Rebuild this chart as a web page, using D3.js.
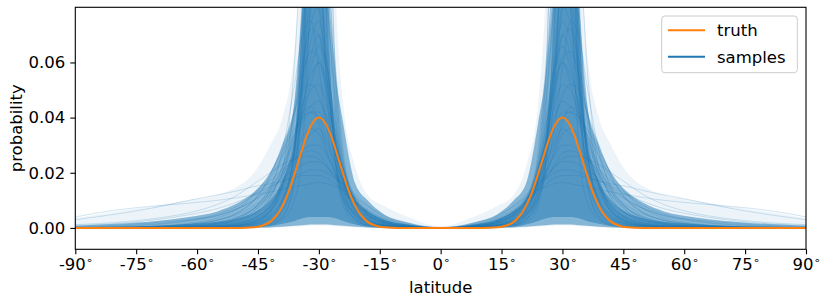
<!DOCTYPE html>
<html>
<head>
<meta charset="utf-8">
<script src="https://cdn.jsdelivr.net/npm/d3@7"></script>
<style>
  body { margin: 0; background: #fff; }
  svg { display: block; }
  text { font-family: "DejaVu Sans", sans-serif; }
</style>
</head>
<body>
<svg id="chart" width="830" height="304"></svg>
<script>
// latitudes of the northern half; the southern half is the mirror image
const latHalf = [0, 8, 14, 18, 21, 24, 26, 28, 30, 32, 34, 36, 39, 42, 46, 50, 55, 62, 70, 80, 90]

// sample curves, values in thousandths
const samples = [
    [0, 0, 0.2, 0.8, 3, 15, 45, 120, 220, 130, 50, 16, 4, 1.5, 0.6, 0.3, 0.1, 0, 0, 0, 0],
    [0, 0, 0.1, 0.5, 2, 8, 25, 90, 250, 160, 60, 18, 4, 1.2, 0.4, 0.2, 0.1, 0, 0, 0, 0],
    [0, 0.1, 0.4, 1.5, 5, 22, 60, 140, 190, 120, 55, 20, 6, 2, 0.8, 0.4, 0.2, 0.1, 0, 0, 0],
    [0, 0, 0.2, 1, 4, 18, 55, 150, 180, 90, 30, 10, 3, 1, 0.4, 0.2, 0.1, 0, 0, 0, 0],
    [0, 0.1, 0.3, 1, 3, 10, 30, 80, 160, 170, 90, 30, 8, 3, 1, 0.5, 0.2, 0.1, 0, 0, 0],
    [0, 0.2, 0.8, 2.5, 7, 25, 55, 100, 130, 105, 60, 28, 10, 4, 1.5, 0.8, 0.4, 0.2, 0.1, 0, 0],
    [0, 0.1, 0.5, 2, 6, 20, 45, 85, 115, 100, 70, 40, 15, 6, 2.5, 1.2, 0.6, 0.3, 0.1, 0, 0],
    [0, 0.3, 1, 3, 8, 28, 60, 95, 110, 90, 55, 28, 11, 5, 2, 1, 0.5, 0.2, 0.1, 0, 0],
    [0, 0.3, 1.2, 3.5, 8, 20, 36, 58, 75, 68, 50, 32, 16, 8, 3.5, 1.8, 0.8, 0.4, 0.2, 0.1, 0],
    [0, 0.4, 1.5, 4, 9, 22, 38, 60, 88, 80, 55, 33, 15, 7, 3, 1.5, 0.7, 0.3, 0.1, 0, 0],
    [0, 0.5, 2, 5, 10, 20, 32, 48, 60, 55, 45, 34, 20, 11, 5, 2.5, 1.2, 0.5, 0.2, 0.1, 0],
    [0, 0.3, 1, 3, 7, 18, 34, 55, 70, 72, 60, 42, 22, 11, 5, 2.5, 1.2, 0.6, 0.3, 0.1, 0],
    [0, 0.6, 2.2, 5.5, 11, 22, 32, 44, 52, 50, 42, 32, 20, 12, 6, 3, 1.5, 0.7, 0.3, 0.1, 0],
    [0, 0.2, 0.8, 2.5, 6, 16, 30, 52, 80, 95, 75, 45, 18, 7, 2.5, 1.2, 0.5, 0.2, 0.1, 0, 0],
    [0, 0.4, 1.6, 4.5, 10, 24, 40, 58, 66, 58, 44, 30, 16, 8, 3.5, 1.8, 0.9, 0.4, 0.2, 0.1, 0],
    [0, 0.5, 2, 5, 10, 19, 27, 36, 42, 42, 38, 32, 22, 14, 7, 3.5, 1.7, 0.8, 0.3, 0.1, 0],
    [0, 0.8, 2.8, 6, 10, 16, 21, 26, 30, 30, 28, 25, 19, 13, 8, 5, 2.8, 1.4, 0.6, 0.2, 0.1],
    [0, 0.6, 2.2, 5, 9, 15, 20, 27, 34, 36, 33, 27, 19, 12, 7, 4, 2, 1, 0.4, 0.2, 0],
    [0, 1, 3.5, 7, 11, 16, 19, 22, 24, 24, 23, 21, 18, 14, 10, 7, 4.5, 2.5, 1.2, 0.5, 0.2],
    [0, 0.7, 2.5, 5.5, 9, 14, 18, 23, 27, 28, 27, 25, 21, 17, 12, 8, 5, 2.8, 1.5, 0.7, 0.3],
    [0, 1.2, 4, 8, 12, 16, 18, 20, 21, 21, 20, 19, 17, 15, 12, 9.5, 7, 4.8, 3, 1.6, 0.9],
    [0, 0.9, 3, 6, 9, 13, 16, 18, 19, 19, 19, 18, 17, 16, 15, 13.5, 12, 10, 7.5, 5, 3],
    [0, 1.5, 4.5, 8, 11, 14, 15, 16, 16.5, 16, 15.5, 15, 14, 13, 12, 11, 10, 9, 8, 6.5, 4],
    [0, 0.5, 2, 4.5, 8, 14, 20, 28, 38, 44, 42, 34, 22, 13, 7, 4, 2, 1, 0.4, 0.2, 0.1],
    [0, 0.8, 2.8, 6, 10, 17, 23, 30, 36, 34, 30, 26, 20, 15, 10, 7, 4.5, 3, 2, 1, 0.5],
    [0, 0.3, 1, 2.5, 5, 11, 20, 36, 58, 75, 70, 52, 28, 14, 6, 3, 1.3, 0.6, 0.2, 0.1, 0],
    [0, 0.2, 0.7, 2, 5, 13, 28, 55, 90, 85, 55, 28, 10, 4, 1.5, 0.7, 0.3, 0.1, 0, 0, 0],
    [0, 0.4, 1.5, 4, 9, 24, 48, 80, 100, 78, 45, 22, 8, 3, 1.2, 0.6, 0.3, 0.1, 0, 0, 0],
    [0, 0.2, 0.6, 1.8, 4.5, 12, 24, 45, 70, 62, 42, 24, 10, 4.5, 1.8, 0.9, 0.4, 0.2, 0.1, 0, 0],
    [0, 0.1, 0.3, 1, 3, 10, 26, 70, 200, 200, 80, 25, 6, 2, 0.7, 0.3, 0.1, 0, 0, 0, 0],
    [0, 0.5, 2, 5, 10, 20, 30, 40, 46, 44, 40, 34, 26, 18, 10, 5.5, 2.8, 1.3, 0.5, 0.2, 0.1],
    [0, 0.3, 1.2, 3.5, 8, 19, 33, 50, 62, 64, 56, 42, 26, 15, 7, 3.5, 1.6, 0.7, 0.3, 0.1, 0],
    [0, 0.6, 2.5, 6, 11, 22, 36, 52, 60, 52, 40, 28, 15, 8, 3.5, 1.8, 0.8, 0.4, 0.2, 0.1, 0],
    [0, 1, 3.2, 6.5, 10, 15, 18.5, 22, 25, 26, 26, 25, 23, 20, 16, 12, 8.5, 5.5, 3.5, 2, 1.2],
    [0, 0.2, 0.6, 1.5, 4, 11, 24, 50, 110, 140, 110, 60, 20, 6, 2, 0.9, 0.4, 0.2, 0, 0, 0],
    [0, 0.3, 0.9, 2.5, 6, 18, 40, 85, 140, 120, 65, 28, 9, 3.5, 1.4, 0.6, 0.3, 0.1, 0, 0, 0],
    [0, 0.4, 1.6, 4.5, 9, 18, 27, 38, 48, 52, 50, 42, 30, 19, 10, 5.5, 2.8, 1.3, 0.5, 0.2, 0.1],
    [0, 0.7, 2.6, 6, 10, 17, 24, 32, 40, 42, 40, 36, 28, 20, 12, 7, 3.6, 1.7, 0.7, 0.3, 0.1],
    [0, 0.2, 0.8, 2.2, 5, 14, 30, 60, 95, 105, 80, 45, 16, 6, 2.2, 1, 0.4, 0.2, 0.1, 0, 0],
    [0, 0.3, 1.1, 3, 7, 17, 32, 54, 80, 74, 52, 30, 13, 6, 2.6, 1.3, 0.6, 0.3, 0.1, 0, 0]
]

// spread of all the samples (thousandths): faint outer envelope, dense middle, darkest core
const outerLow = [0, 0, 0, 0.1, 0.2, 0.4, 0.6, 0.8, 0.9, 0.8, 0.6, 0.4, 0.2, 0.1, 0, 0, 0, 0, 0, 0, 0]
const outerHigh = [0.6, 4, 8, 12, 22, 45, 90, 200, 300, 230, 120, 65, 40, 30, 20, 15, 12, 10, 8, 6, 3.5]
const midLow = [0, 0, 0.1, 0.2, 0.4, 0.8, 1, 1.2, 1.2, 1.2, 1, 0.8, 0.4, 0.2, 0.1, 0, 0, 0, 0, 0, 0]
const midHigh = [0.3, 2, 5, 10, 16, 38, 58, 100, 200, 150, 85, 45, 30, 20, 13, 9, 6, 4, 2.5, 1.5, 0.8]
const innerLow = [0, 0, 0.2, 0.5, 1.2, 2.5, 3.5, 4, 4, 4, 3.5, 2.5, 1.5, 0.6, 0.2, 0.1, 0, 0, 0, 0, 0]
const innerHigh = [0.2, 1.2, 3, 6, 10, 22, 36, 80, 200, 160, 80, 32, 17, 10, 5.5, 3.5, 2.2, 1.4, 0.8, 0.4, 0.2]

// true density (thousandths), northern half
const truthLat = [0, 10, 14, 16, 18, 19, 20, 21, 22, 23, 24, 25, 26, 27, 28, 29, 30, 31, 32, 33, 34, 35,
    36, 37, 38, 39, 40, 41, 42, 44, 46, 50, 60, 90]
const truth = [0, 0.013, 0.24, 0.8, 2.2, 3.6, 5.4, 7.9, 11.1, 15.0, 19.5, 24.3, 29.0, 33.4, 36.9, 39.2, 40,
    39.2, 36.9, 33.4, 29.0, 24.3, 19.5, 15.0, 11.1, 7.9, 5.4, 3.6, 2.2, 0.8, 0.24, 0.013, 0, 0]

const xTicks = [-90, -75, -60, -45, -30, -15, 0, 15, 30, 45, 60, 75, 90]
const yTicks = [0, 0.02, 0.04, 0.06]
const legendItems = [{"label": "truth", "color": "#ff7f0e"}, {"label": "samples", "color": "#1f77b4"}]

const svg = d3.select("#chart")
const plotLeft = 75.3, plotRight = 806, plotTop = 7.3, plotBottom = 249.3

const x = d3.scaleLinear().domain([-90, 90]).range([plotLeft, plotRight])
const y = d3.scaleLinear().domain([-0.00775, 0.08]).range([plotBottom, plotTop])

// mirror a northern-half series onto both hemispheres, values back to plain probability
var mirror = function(lats, ...series) {
    const pts = []
    for (let i = lats.length - 1; i > 0; i--) pts.push([-lats[i], ...series.map((s) => s[i] / 1000)])
    lats.forEach((lat, i) => pts.push([lat, ...series.map((s) => s[i] / 1000)]))
    return pts
}

svg.append("clipPath").attr("id", "plotClip")
    .append("rect")
    .attr("x", plotLeft).attr("y", plotTop)
    .attr("width", plotRight - plotLeft).attr("height", plotBottom - plotTop)

const plot = svg.append("g").attr("clip-path", "url(#plotClip)")

const band = d3.area()
    .x((d) => x(d[0]))
    .y0((d) => y(d[1]))
    .y1((d) => y(d[2]))
    .curve(d3.curveMonotoneX)

const bands = [
    {"lo": outerLow, "hi": outerHigh, "opacity": 0.08},
    {"lo": midLow, "hi": midHigh, "opacity": 0.5},
    {"lo": innerLow, "hi": innerHigh, "opacity": 0.5}
]

plot.selectAll("path.band")
    .data(bands)
    .enter()
    .append("path")
    .classed("band", true)
    .attr("d", (d) => band(mirror(latHalf, d.lo, d.hi)))
    .attr("fill", "#1f77b4")
    .attr("fill-opacity", (d) => d.opacity)

const line = d3.line()
    .x((d) => x(d[0]))
    .y((d) => y(d[1]))
    .curve(d3.curveMonotoneX)

plot.selectAll("path.sample")
    .data(samples)
    .enter()
    .append("path")
    .classed("sample", true)
    .attr("d", (d) => line(mirror(latHalf, d)))
    .attr("fill", "none")
    .attr("stroke", "#1f77b4")
    .attr("stroke-opacity", 0.2)
    .attr("stroke-width", 1)

plot.append("path")
    .attr("d", line(mirror(truthLat, truth)))
    .attr("fill", "none")
    .attr("stroke", "#ff7f0e")
    .attr("stroke-width", 2)

// axes
const xAxis = svg.append("g")
    .attr("transform", `translate(0,${plotBottom})`)
    .call(d3.axisBottom(x).tickValues(xTicks).tickSize(5).tickPadding(4))
xAxis.selectAll("text").each(function(d) {
    const t = d3.select(this).text("")
    t.append("tspan").text(d)
    t.append("tspan").text("\u2218").attr("font-size", 11).attr("dy", "-0.55em")
})

const yAxis = svg.append("g")
    .attr("transform", `translate(${plotLeft},0)`)
    .call(d3.axisLeft(y).tickValues(yTicks).tickFormat(d3.format(".2f")).tickSize(5).tickPadding(5))

svg.selectAll(".domain").remove()
svg.selectAll(".tick line").attr("stroke", "#000").attr("stroke-width", 1.1)
svg.selectAll(".tick text").attr("font-size", 16.5).attr("fill", "#000")
    .attr("font-family", "DejaVu Sans")

svg.append("rect")
    .attr("x", plotLeft).attr("y", plotTop)
    .attr("width", plotRight - plotLeft).attr("height", plotBottom - plotTop)
    .attr("fill", "none")
    .attr("stroke", "#000")
    .attr("stroke-width", 1.1)

svg.append("text")
    .attr("x", (plotLeft + plotRight) / 2).attr("y", 293)
    .attr("text-anchor", "middle")
    .attr("font-size", 16.5)
    .text("latitude")

svg.append("text")
    .attr("transform", `translate(21.5,${(plotTop + plotBottom) / 2}) rotate(-90)`)
    .attr("text-anchor", "middle")
    .attr("font-size", 16.5)
    .text("probability")

// legend
const legend = svg.append("g").attr("transform", "translate(661.7,16)")
legend.append("rect")
    .attr("width", 135.6).attr("height", 56.7)
    .attr("rx", 3)
    .attr("fill", "#fff").attr("fill-opacity", 0.8)
    .attr("stroke", "#ccc")

const items = legend.selectAll("g.item")
    .data(legendItems)
    .enter()
    .append("g")
    .classed("item", true)
    .attr("transform", (d, i) => `translate(0,${14.3 + i * 26.4})`)
items.append("line")
    .attr("x1", 6.3).attr("x2", 43.3)
    .attr("stroke", (d) => d.color)
    .attr("stroke-width", 2)
items.append("text")
    .attr("x", 55.3).attr("y", 6)
    .attr("font-size", 16.5)
    .text((d) => d.label)
</script>
</body>
</html>
